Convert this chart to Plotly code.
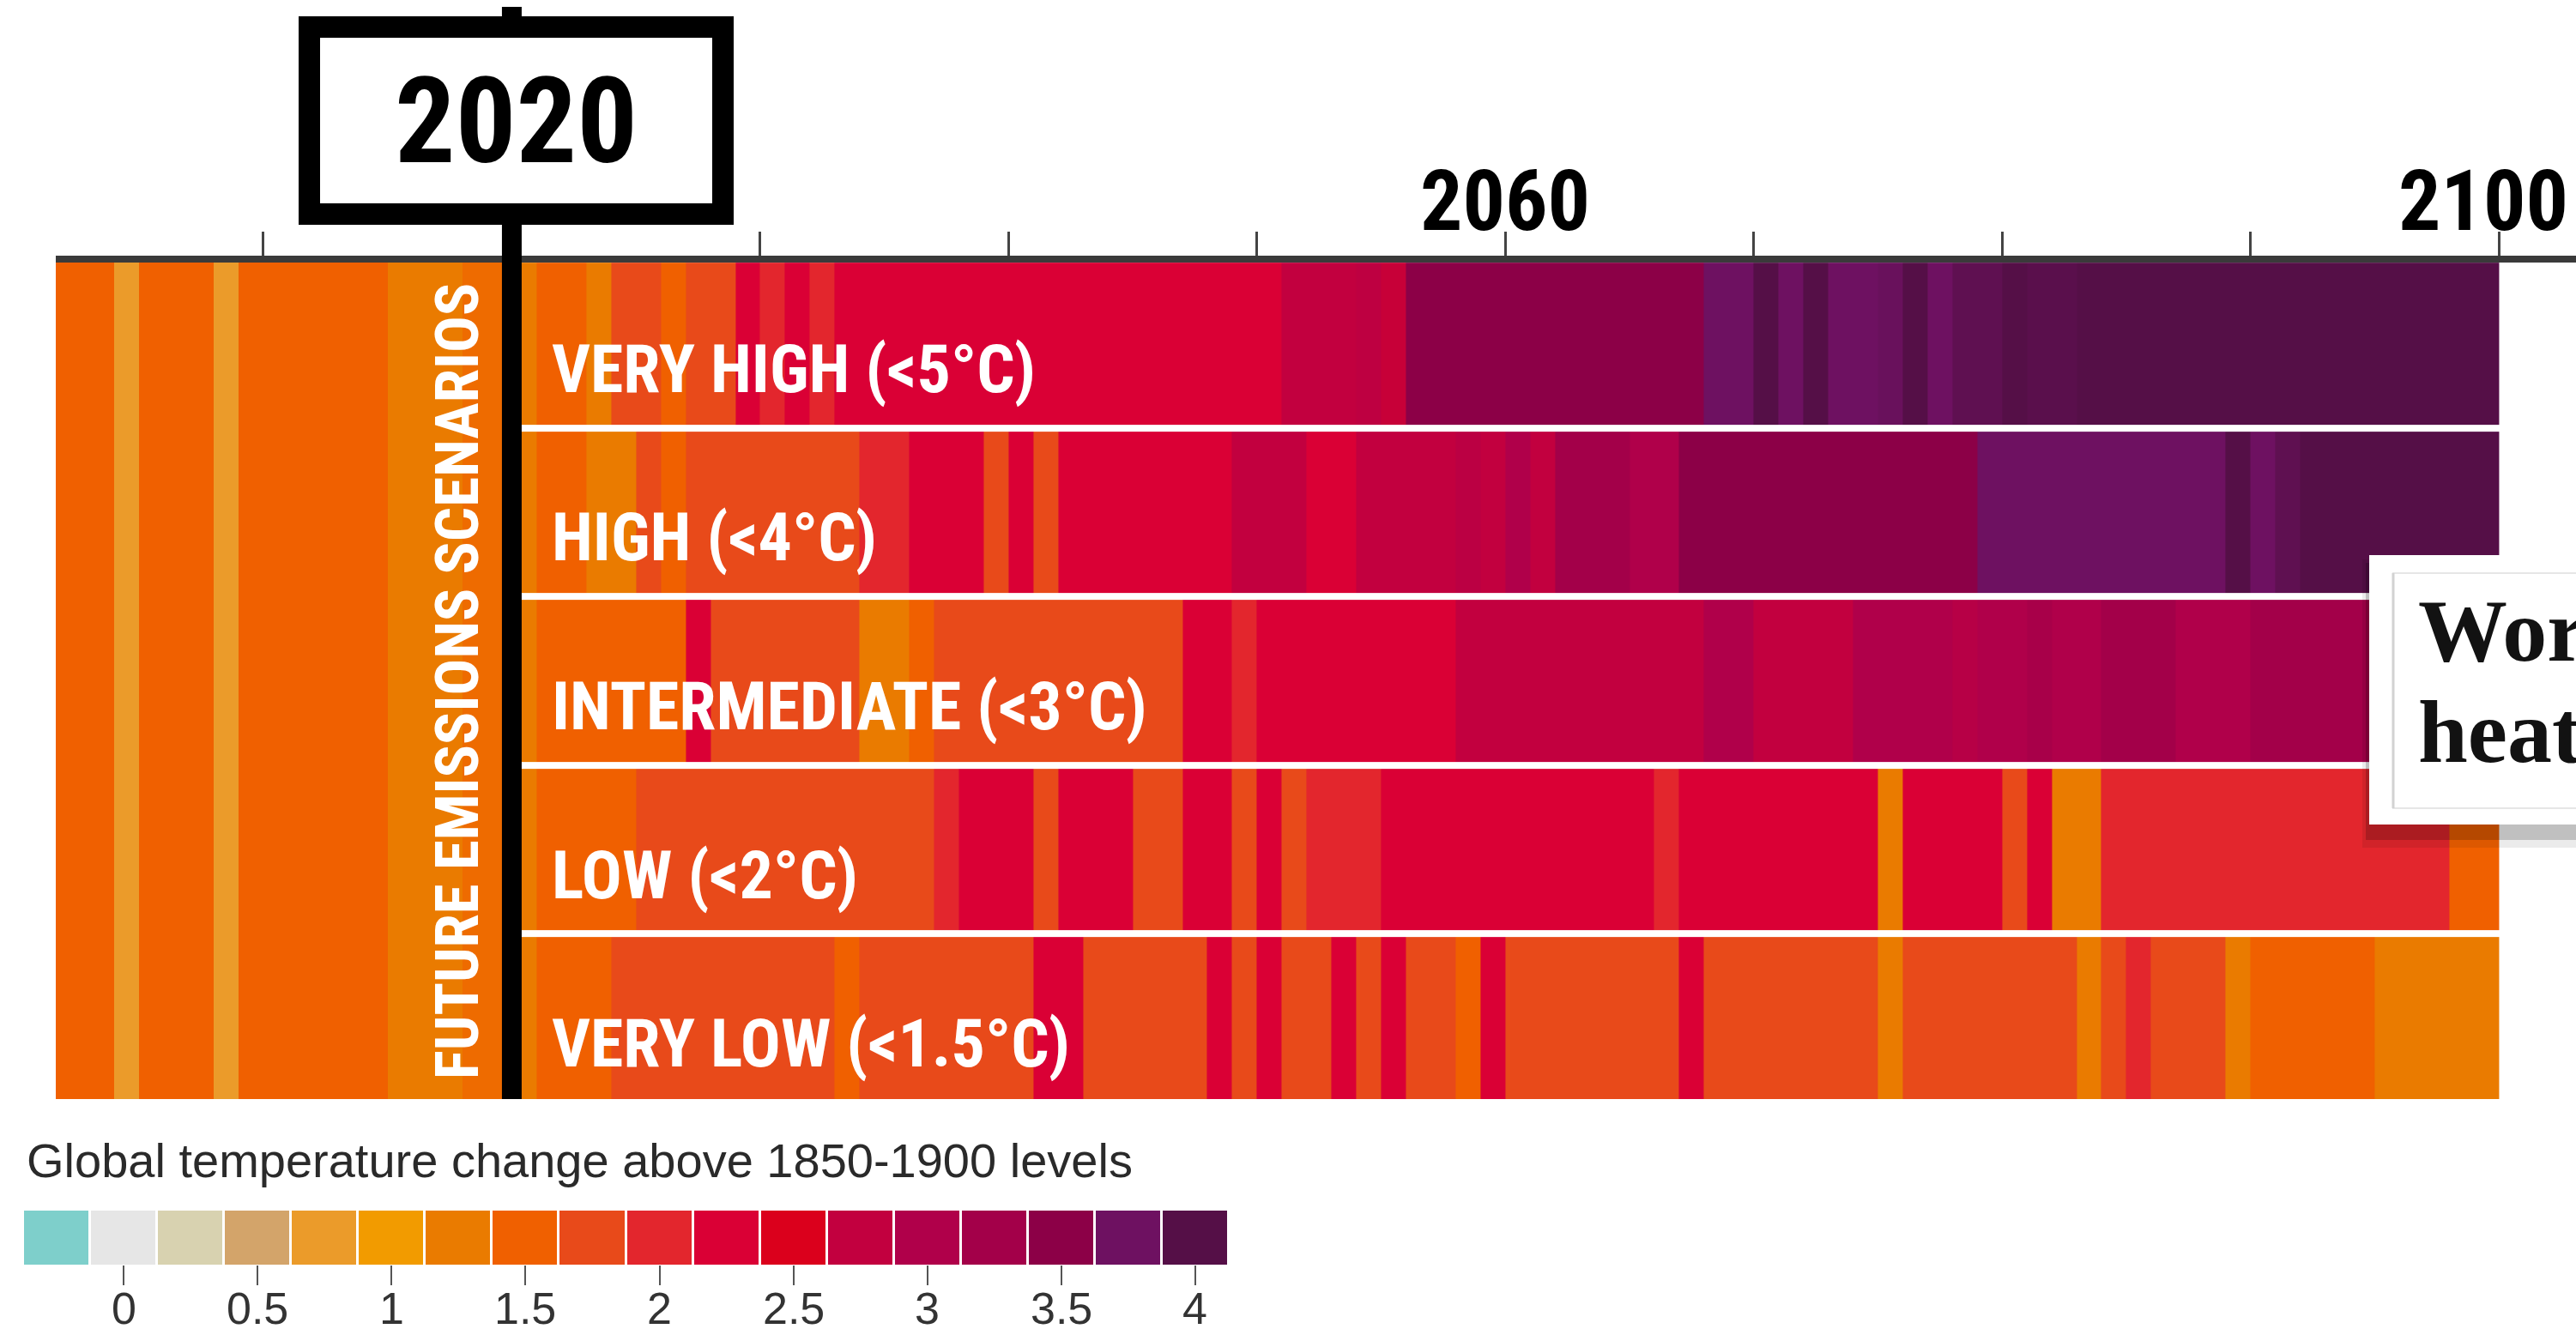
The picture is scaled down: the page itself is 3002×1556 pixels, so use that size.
import plotly.graph_objects as go

W, H = 3002, 1556

# ---------------- data ----------------
hist_year_edges = list(range(2001, 2021))
hist_values = [1.5, 1.5, 1.5, 0.75, 1.5, 1.5, 1.5, 0.75, 1.5, 1.5,
               1.5, 1.5, 1.5, 1.5, 1.25, 1.25, 1.25, 1.4, 1.4]

future_year_edges = list(range(2020, 2101))

scenario_labels = ["VERY LOW (<1.5°C)", "LOW (<2°C)", "INTERMEDIATE (<3°C)",
                   "HIGH (<4°C)", "VERY HIGH (<5°C)"]

very_high = [1.25, 1.5, 1.5, 1.25, 1.75, 1.75, 1.5, 1.75, 1.75,
             2.25, 2.0, 2.25, 2.0,
             2.25, 2.25, 2.25, 2.25, 2.25, 2.25, 2.25, 2.25, 2.25,
             2.25, 2.25, 2.25, 2.25, 2.25, 2.25, 2.25, 2.25, 2.25,
             2.75, 2.75, 2.75, 2.8, 2.7,
             3.5, 3.5, 3.5, 3.5, 3.5, 3.5, 3.5, 3.5, 3.5, 3.5, 3.5, 3.5,
             3.75, 3.75, 4.0, 3.75, 4.0, 3.75, 3.75, 3.8, 4.0, 3.75, 3.9, 3.9, 4.0, 3.95, 3.95,
             4.0, 4.0, 4.0, 4.0, 4.0, 4.0, 4.0, 4.0, 4.0, 4.0, 4.0, 4.0, 4.0, 4.0, 4.0, 4.0, 4.0]

high = [1.25, 1.5, 1.5, 1.25, 1.25, 1.75, 1.5,
        1.75, 1.75, 1.75, 1.75, 1.75, 1.75, 1.75,
        2.0, 2.0, 2.25, 2.25, 2.25, 1.75, 2.25, 1.75,
        2.25, 2.25, 2.25, 2.25, 2.25, 2.25, 2.25,
        2.75, 2.75, 2.75, 2.25, 2.25,
        2.75, 2.75, 2.75, 2.75, 2.85, 2.75, 3.0, 2.75,
        3.25, 3.25, 3.25, 3.0, 3.0,
        3.5, 3.5, 3.5, 3.5, 3.5, 3.5, 3.5, 3.5, 3.5, 3.5, 3.5, 3.5,
        3.75, 3.75, 3.75, 3.75, 3.75, 3.75, 3.75, 3.75, 3.75, 3.75,
        4.0, 3.75, 3.9,
        4.0, 4.0, 4.0, 4.0, 4.0, 4.0, 4.0, 4.0]

intermediate = [1.25, 1.5, 1.5, 1.5, 1.5, 1.5, 1.5, 2.25,
                1.75, 1.75, 1.75, 1.75, 1.75, 1.75,
                1.25, 1.25, 1.5,
                1.75, 1.75, 1.75, 1.75, 1.75, 1.75, 1.75, 1.75, 1.75, 1.75,
                2.25, 2.25, 2.0,
                2.25, 2.25, 2.25, 2.25, 2.25, 2.25, 2.25, 2.25,
                2.75, 2.75, 2.75, 2.75, 2.75, 2.75, 2.75, 2.75, 2.75, 2.75,
                3.0, 3.0, 2.75, 2.75, 2.75, 2.75,
                3.0, 3.0, 3.0, 3.0, 2.9, 3.0, 3.0, 3.15, 3.0, 3.0,
                3.25, 3.25, 3.25, 3.0, 3.0, 3.0,
                3.25, 3.25, 3.25, 3.25, 3.25, 3.25, 3.25, 3.25, 3.25, 3.25]

low = [1.25, 1.5, 1.5, 1.5, 1.5,
       1.75, 1.75, 1.75, 1.75, 1.75, 1.75, 1.75, 1.75, 1.75, 1.75, 1.75, 1.75,
       2.0, 2.25, 2.25, 2.25, 1.75, 2.25, 2.25, 2.25, 1.75, 1.75,
       2.25, 2.25, 1.75, 2.25, 1.75, 2.0, 2.0, 2.0,
       2.25, 2.25, 2.25, 2.25, 2.25, 2.25, 2.25, 2.25, 2.25, 2.25, 2.25,
       2.0, 2.25, 2.25, 2.25, 2.25, 2.25, 2.25, 2.25, 2.25,
       1.25, 2.25, 2.25, 2.25, 2.25, 1.75, 2.25, 1.25, 1.25,
       2.0, 2.0, 2.0, 2.0, 2.0, 2.0, 2.0, 2.0, 2.0, 2.0, 2.0, 2.0, 2.0, 2.0,
       1.5, 1.5]

very_low = [1.25, 1.5, 1.5, 1.5,
            1.75, 1.75, 1.75, 1.75, 1.75, 1.75, 1.75, 1.75, 1.75,
            1.5, 1.75, 1.75, 1.75, 1.75, 1.75, 1.75, 1.75,
            2.25, 2.25, 1.75, 1.75, 1.75, 1.75, 1.75,
            2.25, 1.75, 2.25, 1.75, 1.75, 2.25, 1.75, 2.25, 1.75, 1.75,
            1.5, 2.25, 1.75, 1.75, 1.75, 1.75, 1.75, 1.75, 1.75,
            2.25, 1.75, 1.75, 1.75, 1.75, 1.75, 1.75, 1.75,
            1.25, 1.75, 1.75, 1.75, 1.75, 1.75, 1.75, 1.75,
            1.25, 1.75, 2.0, 1.75, 1.75, 1.75, 1.25,
            1.5, 1.5, 1.5, 1.5, 1.5, 1.25, 1.25, 1.25, 1.25, 1.25]

legend_values = [-0.25, 0.0, 0.25, 0.5, 0.75, 1.0, 1.25, 1.5, 1.75,
                 2.0, 2.25, 2.5, 2.75, 3.0, 3.25, 3.5, 3.75, 4.0]
legend_colors = ["#7ECFCB", "#E6E6E6", "#D8D2B0", "#D3A46A", "#EB9B2A", "#F29B00",
                 "#EA7B00", "#F06000", "#E84A1A", "#E3262D", "#DA0035", "#DB001C",
                 "#C2003F", "#B0004A", "#A30049", "#8C0047", "#6E1161", "#550F47"]
legend_tickvals = [0, 0.5, 1, 1.5, 2, 2.5, 3, 3.5, 4]
legend_ticktext = ["0", "0.5", "1", "1.5", "2", "2.5", "3", "3.5", "4"]

axis_tickvals = [2010, 2020, 2030, 2040, 2050, 2060, 2070, 2080, 2090, 2100]
axis_labels = ["2060", "2100"]
axis_label_years = [2060, 2100]
marker_year = 2020

# ---------------- helpers (pixel -> paper) ----------------
def px(x):
    return x / W

def py(y):
    return 1 - y / H

NARROW = "Liberation Sans Narrow, Arial Narrow, Roboto Condensed, DejaVu Sans Condensed, sans-serif"
SANS = "Liberation Sans, Arial, Helvetica, sans-serif"
SERIF = "Liberation Serif, Georgia, DejaVu Serif, serif"

zmin, zmax = legend_values[0], legend_values[-1]
colorscale = [[i / (len(legend_colors) - 1), c] for i, c in enumerate(legend_colors)]

fig = go.Figure()

# historical stripes (one tall row)
fig.add_trace(go.Heatmap(
    x=hist_year_edges, y=[-0.5, 4.5], z=[hist_values],
    colorscale=colorscale, zmin=zmin, zmax=zmax, showscale=False,
    hoverinfo="skip", xaxis="x", yaxis="y"))

# future scenario stripes
fig.add_trace(go.Heatmap(
    x=future_year_edges, y=[0, 1, 2, 3, 4],
    z=[very_low, low, intermediate, high, very_high],
    colorscale=colorscale, zmin=zmin, zmax=zmax, showscale=False,
    ygap=8, hoverinfo="skip", xaxis="x", yaxis="y"))

# legend colour bar
fig.add_trace(go.Heatmap(
    x=legend_values, y=[0], z=[legend_values],
    colorscale=colorscale, zmin=zmin, zmax=zmax, showscale=False,
    xgap=3, hoverinfo="skip", xaxis="x2", yaxis="y2"))

x_start = 2001.64
px_per_year = 28.945
x_end = x_start + (W - 65) / px_per_year

fig.update_layout(
    width=W, height=H, autosize=False,
    margin=dict(l=0, r=0, t=0, b=0, pad=0),
    paper_bgcolor="white", plot_bgcolor="white",
    showlegend=False,
    xaxis=dict(domain=[px(65), 1], range=[x_start, x_end], side="top",
               showline=True, linecolor="#3a3a3a", linewidth=8,
               ticks="outside", ticklen=28, tickwidth=3, tickcolor="#444444",
               tickvals=axis_tickvals, showticklabels=False,
               showgrid=False, zeroline=False, anchor="y", fixedrange=True),
    yaxis=dict(domain=[py(1281), py(306)], range=[-0.48, 4.48], visible=False,
               anchor="x", fixedrange=True),
    xaxis2=dict(domain=[px(27), px(1432)], range=[-0.375, 4.125], side="bottom",
                showline=False, ticks="outside", ticklen=23, tickwidth=2,
                tickcolor="#555555", tickvals=legend_tickvals, showticklabels=False,
                showgrid=False, zeroline=False, anchor="y2", fixedrange=True),
    yaxis2=dict(domain=[py(1474), py(1411)], range=[-0.5, 0.5], visible=False,
                anchor="x2", fixedrange=True),
)

shapes = []
# 2020 marker line
shapes.append(dict(type="line", xref="x", yref="paper", x0=marker_year, x1=marker_year,
                   y0=py(1281), y1=py(8), line=dict(color="black", width=23), layer="above"))
# overlay card (shadow, card, inner rule)
shapes.append(dict(type="rect", xref="paper", yref="paper", x0=px(2753), x1=px(3020),
                   y0=py(988), y1=py(652), fillcolor="rgba(0,0,0,0.08)", line=dict(width=0), layer="above"))
shapes.append(dict(type="rect", xref="paper", yref="paper", x0=px(2757), x1=px(3020),
                   y0=py(979), y1=py(656), fillcolor="rgba(0,0,0,0.18)", line=dict(width=0), layer="above"))
shapes.append(dict(type="rect", xref="paper", yref="paper", x0=px(2761), x1=px(3020),
                   y0=py(961), y1=py(647), fillcolor="white", line=dict(width=0), layer="above"))
shapes.append(dict(type="rect", xref="paper", yref="paper", x0=px(2789), x1=px(3030),
                   y0=py(942), y1=py(668), fillcolor="rgba(0,0,0,0)",
                   line=dict(color="#e6e6e6", width=2), layer="above"))
shapes.append(dict(type="line", xref="paper", yref="paper", x0=px(2789), x1=px(2789),
                   y0=py(942), y1=py(668), line=dict(color="#d2d2d2", width=3), layer="above"))
fig.update_layout(shapes=shapes)

ann = []
# 2020 box
ann.append(dict(text="2020", x=marker_year, xref="x", xshift=5, y=py(141), yref="paper",
                xanchor="center", yanchor="middle", showarrow=False,
                width=457, height=193, borderwidth=25, borderpad=0,
                bordercolor="black", bgcolor="white",
                font=dict(family=NARROW, size=140, color="black", weight="bold")))
# decade labels
for yr, lab in zip(axis_label_years, axis_labels):
    ann.append(dict(text=lab, x=yr, xref="x", y=py(235), yref="paper",
                    xanchor="center", yanchor="middle", showarrow=False,
                    xshift=(-18 if yr == 2100 else 0),
                    font=dict(family=NARROW, size=98, color="black", weight="bold")))
# scenario labels
for i, lab in enumerate(scenario_labels):
    ann.append(dict(text=lab, x=2021.54, xref="x", y=i, yref="y",
                    xanchor="left", yanchor="middle", showarrow=False, yshift=-30,
                    font=dict(family=NARROW, size=78, color="white", weight="bold")))
# vertical label
ann.append(dict(text="FUTURE EMISSIONS SCENARIOS", x=marker_year, xref="x", xshift=-64,
                y=2, yref="y", textangle=-90, xanchor="center", yanchor="middle",
                showarrow=False,
                font=dict(family=NARROW, size=71, color="white", weight="bold")))
# legend title
ann.append(dict(text="Global temperature change above 1850-1900 levels",
                x=px(29), xref="paper", y=py(1352), yref="paper",
                xanchor="left", yanchor="middle", showarrow=False,
                font=dict(family=SANS, size=56, color="#2a2a2a")))
# legend tick labels (placed on the legend's own x scale)
for tv, tt in zip(legend_tickvals, legend_ticktext):
    ann.append(dict(text=tt, x=tv, xref="x2", y=py(1525), yref="paper",
                    xanchor="center", yanchor="middle", showarrow=False,
                    font=dict(family=SANS, size=52, color="#333333")))
# overlay card headline fragment
ann.append(dict(text="Wor", x=px(2816), xref="paper", y=py(735), yref="paper",
                xanchor="left", yanchor="middle", showarrow=False,
                font=dict(family=SERIF, size=104, color="#121212", weight="bold")))
ann.append(dict(text="heat", x=px(2816), xref="paper", y=py(853), yref="paper",
                xanchor="left", yanchor="middle", showarrow=False,
                font=dict(family=SERIF, size=104, color="#121212", weight="bold")))
fig.update_layout(annotations=ann)

fig.write_html("out.html", config={"displayModeBar": False},
               post_script="document.body.style.margin='0px';document.body.style.overflow='hidden';")
